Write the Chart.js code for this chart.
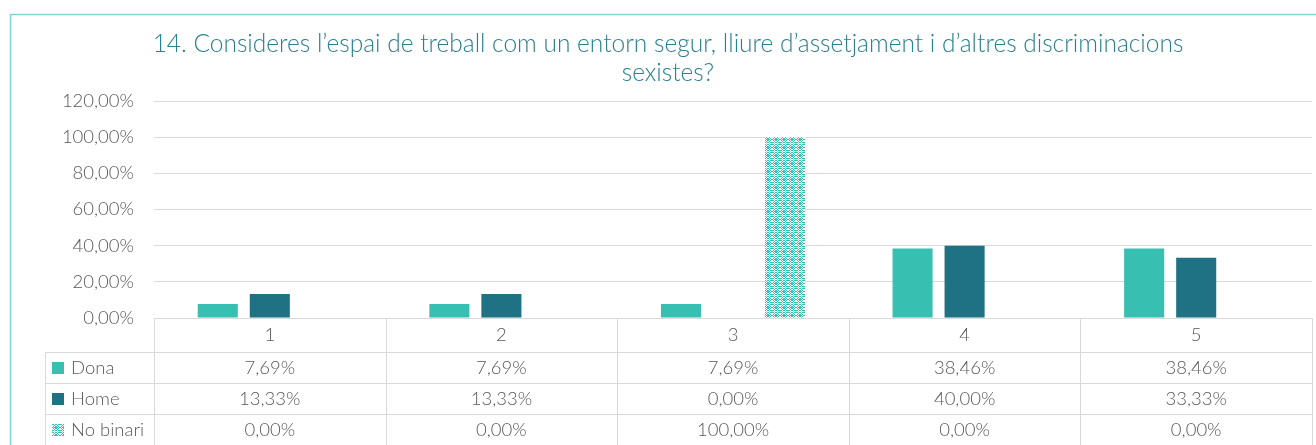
<!DOCTYPE html>
<html>
<head>
<meta charset="utf-8">
<script src="https://cdn.jsdelivr.net/npm/chart.js@4.4.1/dist/chart.umd.min.js"></script>
<style>
  html, body { margin: 0; padding: 0; background: #fff; }
  #wrap { width: 1316px; height: 445px; }
</style>
</head>
<body>
<div id="wrap"><canvas id="chart" width="1316" height="445"></canvas></div>
<script>
const categories = ['1', '2', '3', '4', '5'];
const donaValues = [7.69, 7.69, 7.69, 38.46, 38.46];
const homeValues = [13.33, 13.33, 0, 40, 33.33];
const noBinariValues = [0, 0, 100, 0, 0];
const seriesNames = ['Dona', 'Home', 'No binari'];
const titleLines = [
  '14. Consideres l\u2019espai de treball com un entorn segur, lliure d\u2019assetjament i d\u2019altres discriminacions',
  'sexistes?'
];

const FONT = 'Lato, "Open Sans", sans-serif';
const TEXT = '#595959';
const GRID = '#d9d9d9';
const DONA = '#37bfb2';
const HOME = '#1f7184';

function fmtPct(v) {
  return v.toFixed(2).replace('.', ',') + '%';
}

// lattice tile standing in for Excel's pattern fill
function makePattern() {
  const rows = [
    '#.####.#',
    '.#....#.',
    '#.#..#.#',
    '##.##.##',
    '#.#..#.#',
    '.#....#.',
    '#.####.#',
    '.+.++.+.',
  ];
  const c = document.createElement('canvas');
  c.width = 8; c.height = 8;
  const g = c.getContext('2d');
  g.fillStyle = '#fff';
  g.fillRect(0, 0, 8, 8);
  rows.forEach((r, y) => {
    [...r].forEach((ch, x) => {
      if (ch === '.') return;
      g.fillStyle = ch === '#' ? DONA : '#9ee0d9';
      g.fillRect(x, y, 1, 1);
    });
  });
  return g.createPattern(c, 'repeat');
}

const ctx0 = document.getElementById('chart').getContext('2d');
const nbPattern = makePattern();
const seriesColors = [DONA, HOME, nbPattern];
const seriesValues = [donaValues, homeValues, noBinariValues];

const frameAndTable = {
  id: 'frameAndTable',
  beforeDraw(chart) {
    const { ctx } = chart;
    ctx.save();
    ctx.strokeStyle = '#80d6ce';
    ctx.lineWidth = 1.5;
    ctx.strokeRect(10.5, 14.5, 1400, 500);
    ctx.fillStyle = '#2a7f90';
    ctx.font = '300 24.5px ' + FONT;
    ctx.textAlign = 'center';
    ctx.textBaseline = 'middle';
    titleLines.forEach((t, i) => ctx.fillText(t, 668, 44 + i * 29));
    ctx.restore();
  },
  afterDraw(chart) {
    const { ctx, chartArea } = chart;
    const x = chart.scales.x;
    const half = (x.getPixelForValue(1) - x.getPixelForValue(0)) / 2;
    const right = Math.round(chartArea.right) + 0.5;
    const top = Math.round(chartArea.bottom) + 0.5;
    const rowH = [34, 31, 31, 31];
    const legendLeft = 45.5;
    ctx.save();
    ctx.strokeStyle = GRID;
    ctx.lineWidth = 1;
    ctx.beginPath();
    const left = Math.round(x.getPixelForValue(0) - half) + 0.5;
    ctx.moveTo(left, top); ctx.lineTo(right, top);
    let y = top;
    const rowTops = [];
    for (const h of rowH) { rowTops.push(y); y += h; }
    const bottom = y;
    for (let r = 1; r < rowTops.length; r++) {
      ctx.moveTo(legendLeft, rowTops[r]); ctx.lineTo(right, rowTops[r]);
    }
    ctx.moveTo(legendLeft, rowTops[1]); ctx.lineTo(legendLeft, bottom);
    for (let i = 0; i <= categories.length; i++) {
      const px = Math.round(x.getPixelForValue(i) - half) + 0.5;
      ctx.moveTo(px, top); ctx.lineTo(px, bottom);
    }
    ctx.stroke();

    ctx.font = '300 18.5px ' + FONT;
    ctx.fillStyle = TEXT;
    ctx.textAlign = 'center';
    ctx.textBaseline = 'middle';
    categories.forEach((c, i) => ctx.fillText(c, x.getPixelForValue(i), rowTops[0] + rowH[0] / 2));
    seriesValues.forEach((vals, s) => {
      const cy = rowTops[s + 1] + rowH[s + 1] / 2;
      vals.forEach((v, i) => {
        ctx.fillStyle = TEXT;
        ctx.fillText(fmtPct(v), x.getPixelForValue(i), cy);
      });
      ctx.fillStyle = seriesColors[s];
      ctx.fillRect(52, Math.round(cy - 6), 12, 12);
      ctx.fillStyle = TEXT;
      ctx.textAlign = 'left';
      ctx.fillText(seriesNames[s], 71, cy);
      ctx.textAlign = 'center';
    });
    ctx.restore();
  }
};

new Chart(ctx0, {
  type: 'bar',
  data: {
    labels: categories,
    datasets: seriesNames.map((name, s) => ({
      label: name,
      data: seriesValues[s],
      backgroundColor: seriesColors[s],
      borderWidth: 0,
      categoryPercentage: 0.674,
      barPercentage: 0.77,
    })),
  },
  options: {
    responsive: false,
    animation: false,
    layout: { padding: { top: 101, right: 4, bottom: 127, left: 0 } },
    plugins: {
      legend: { display: false },
      title: { display: false },
      tooltip: { enabled: false },
    },
    scales: {
      x: { display: false },
      y: {
        min: 0,
        max: 120,
        ticks: {
          stepSize: 20,
          padding: 20,
          color: TEXT,
          font: { family: FONT, size: 18.5, weight: 300 },
          callback: v => fmtPct(v),
        },
        grid: { color: GRID, drawTicks: false, lineWidth: 1 },
        border: { display: false },
        afterFit(scale) { scale.width = 154; },
      },
    },
  },
  plugins: [frameAndTable],
});
</script>
</body>
</html>
